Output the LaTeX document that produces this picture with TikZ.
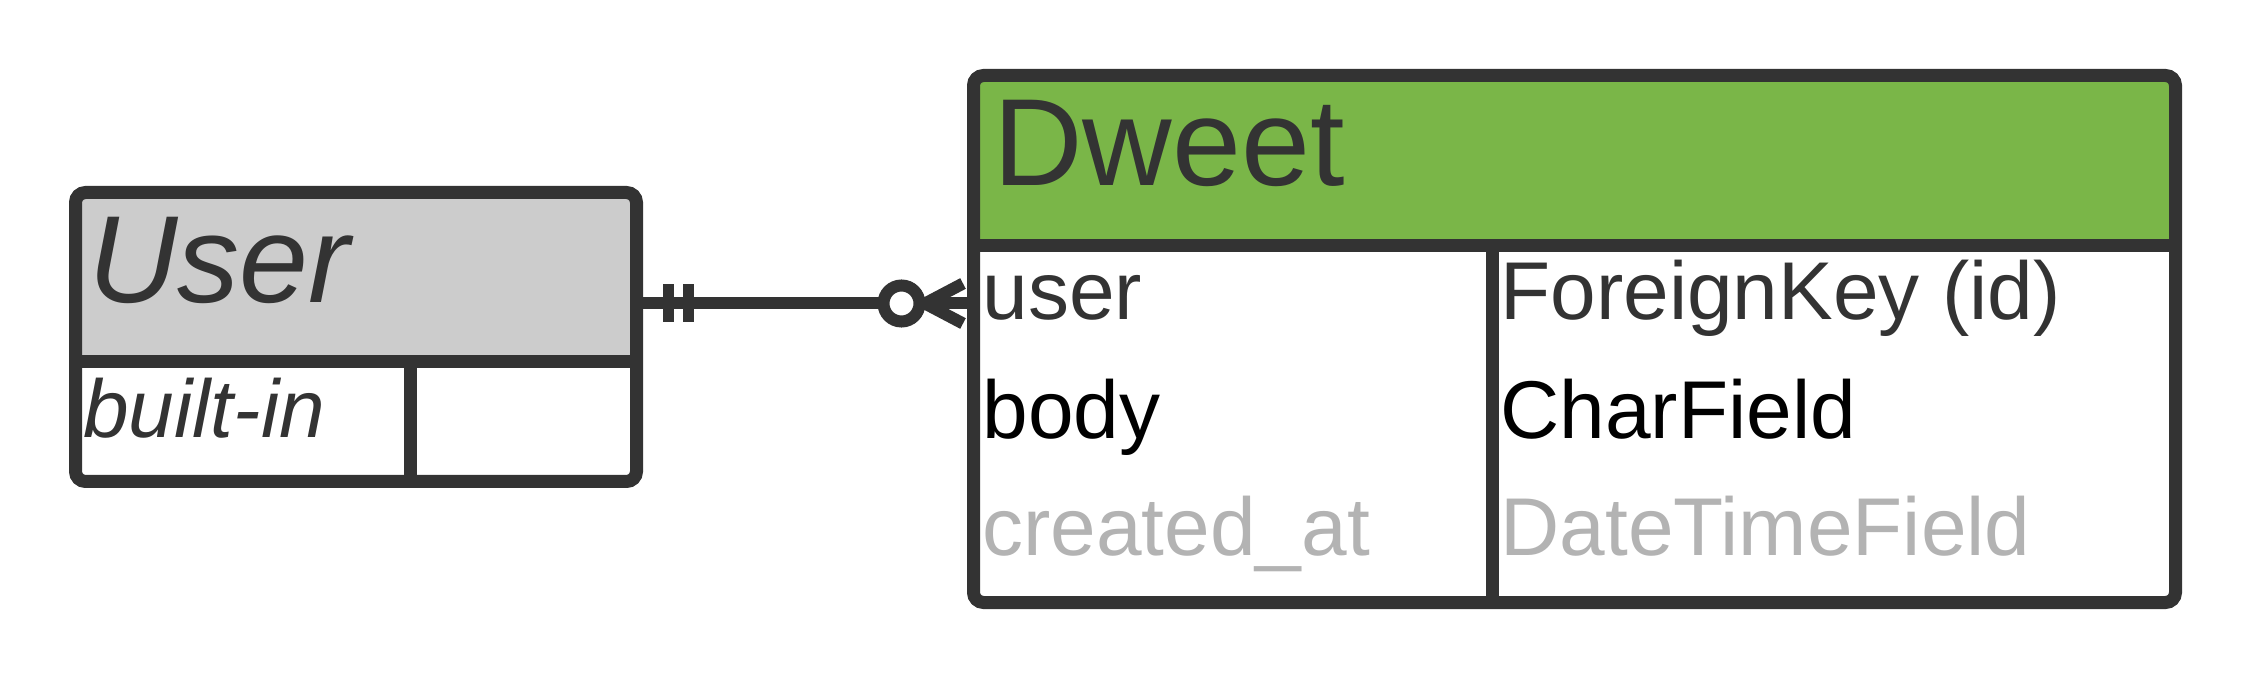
\documentclass[tikz,border=0pt]{standalone}
\usepackage{fontspec}
\setmainfont{Liberation Sans}
\usepackage{xcolor}
\usepackage{tikz}
\usetikzlibrary{calc}
\definecolor{linecol}{HTML}{333333}
\definecolor{usergray}{HTML}{CCCCCC}
\definecolor{dweetgreen}{HTML}{7AB648}
\definecolor{fadedtext}{HTML}{B3B3B3}
\tikzset{
    erline/.style={draw=linecol, line width=6.5pt},
    tablebox/.style={erline, rectangle, rounded corners=5pt, inner sep=0pt},
    headtext/.style={anchor=base west, inner sep=0pt, text=linecol, font=\fontsize{62pt}{62pt}\selectfont},
    rowtext/.style={anchor=base west, inner sep=0pt, font=\fontsize{41pt}{41pt}\selectfont}}

\begin{document}
\begin{tikzpicture}[x=0.5pt,y=-0.5pt]
\useasboundingbox (0,0) rectangle (2250,673);

\coordinate (uhead) at (0,362);
\coordinate (ucol) at (410,0);
\coordinate (dhead) at (0,246);
\coordinate (dcol) at (1492,0);
\coordinate (fk) at (0,303.5);

% header fills
\fill[usergray, rounded corners=5pt] (75.5,192.5) rectangle (636.5,362);
\fill[dweetgreen, rounded corners=5pt] (973.5,75.5) rectangle (2175.5,246);

% tables
\node[tablebox, minimum width=280.5pt, minimum height=144.5pt] (User) at (356,337) {};
\node[tablebox, minimum width=601pt, minimum height=263.5pt] (Dweet) at (1574.5,339) {};

\draw [erline] (User.west |- uhead) -- (User.east |- uhead);
\draw [erline] (ucol |- uhead) -- (ucol |- User.south);
\draw [erline] (Dweet.west |- dhead) -- (Dweet.east |- dhead);
\draw [erline] (dcol |- dhead) -- (dcol |- Dweet.south);

% relation
\draw [erline, line width=6pt] (User.east |- fk) -- (Dweet.west |- fk);
\draw [erline, line width=5.5pt] ($(User.east |- fk)+(25,-19)$) -- ++(0,38);
\draw [erline, line width=5.5pt] ($(User.east |- fk)+(45.5,-19)$) -- ++(0,38);
\draw [erline, line width=6pt] ($(Dweet.west |- fk)+(-42,0)$) -- ($(Dweet.west |- fk)+(-4,-20)$);
\draw [erline, line width=6pt] ($(Dweet.west |- fk)+(-42,0)$) -- ($(Dweet.west |- fk)+(-4,20)$);
\draw [erline, line width=6pt, fill=white] ($(Dweet.west |- fk)+(-65.5,0)$) circle (18);

% texts
\node[headtext] (usertitle) at (88,303) {\itshape User};
\node[rowtext, text=linecol] (builtin) at (83,438) {\itshape built-in};
\node[headtext] (dweettitle) at (993,186) {Dweet};
\node[rowtext, text=linecol] (fuser) at (982,320) {user};
\node[rowtext, text=linecol] (tuser) at (1500,320) {ForeignKey (id)};
\node[rowtext, text=black] (fbody) at (982,439) {body};
\node[rowtext, text=black] (tbody) at (1500,439) {CharField};
\node[rowtext, text=fadedtext] (fcreated) at (982,556) {created\_at};
\node[rowtext, text=fadedtext] (tcreated) at (1500,556) {DateTimeField};
\end{tikzpicture}
\end{document}
